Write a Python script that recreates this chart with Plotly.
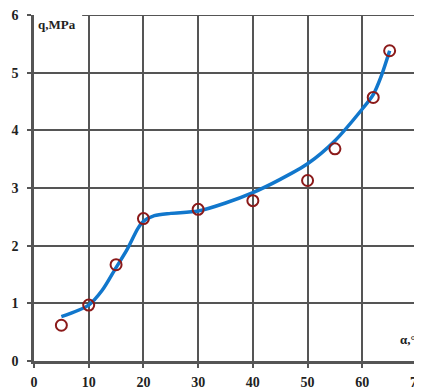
import plotly.graph_objects as go

# Measured points
alpha_pts = [5, 10, 15, 20, 30, 40, 50, 55, 62, 65]
q_pts = [0.62, 0.97, 1.67, 2.47, 2.63, 2.78, 3.13, 3.68, 4.57, 5.38]

# Fitted curve
alpha_fit = [5, 10, 12.5, 15, 17, 19, 20, 22, 25, 30, 35, 40, 45, 50, 55, 60, 62, 63.5, 65]
q_fit = [0.77, 0.97, 1.23, 1.62, 1.93, 2.30, 2.42, 2.52, 2.56, 2.60, 2.74, 2.92, 3.15, 3.42, 3.82, 4.37, 4.62, 4.95, 5.38]

x_ticks = [0, 10, 20, 30, 40, 50, 60, 70]
y_ticks = [0, 1, 2, 3, 4, 5, 6]

font_family = "Liberation Serif, Times New Roman, serif"

fig = go.Figure()
fig.add_trace(go.Scatter(x=alpha_fit, y=q_fit, mode="lines", line=dict(color="#1177cc", width=3.5, shape="spline", smoothing=0.8),
                         hoverinfo="skip", showlegend=False))
fig.add_trace(go.Scatter(x=alpha_pts, y=q_pts, mode="markers",
                         marker=dict(symbol="circle-open", size=11, color="#8b1a1a", line=dict(width=2, color="#8b1a1a")),
                         showlegend=False))

grid_color = "#555555"
fig.add_shape(type="line", x0=8.8, x1=70, y0=6, y1=6, xref="x", yref="y", line=dict(color=grid_color, width=2))
fig.add_shape(type="line", x0=70, x1=70, y0=6, y1=0.5, xref="x", yref="y", line=dict(color=grid_color, width=2))
fig.add_shape(type="line", x0=70, x1=70, y0=0.25, y1=0, xref="x", yref="y", line=dict(color=grid_color, width=2))

fig.add_annotation(text="<b>q,MPa</b>", x=0.006, y=6, xref="x domain", yref="y", xanchor="left", yanchor="top",
                   showarrow=False, font=dict(family=font_family, size=13, color="#222"))
fig.add_annotation(text="<b>α,°</b>", x=70, y=0.38, xref="x", yref="y", xanchor="right", yanchor="middle",
                   xshift=0, showarrow=False, font=dict(family=font_family, size=13, color="#222"),
                   bgcolor="white", borderpad=0)

fig.update_xaxes(range=[0, 70], tickvals=x_ticks, ticktext=[f"<b>{v}</b>" for v in x_ticks],
                 showgrid=True, gridcolor=grid_color, gridwidth=1.5,
                 showline=True, linecolor=grid_color, linewidth=2.5,
                 ticks="outside", ticklen=4, tickcolor=grid_color, tickwidth=1.5,
                 tickfont=dict(family=font_family, size=14, color="#222"), zeroline=False,
                 ticklabelstandoff=2, automargin=False, ticklabeloverflow="allow")
fig.update_yaxes(range=[0, 6], tickvals=y_ticks, ticktext=[f"<b>{v}</b>" for v in y_ticks],
                 showgrid=True, gridcolor=grid_color, gridwidth=1.5,
                 showline=True, linecolor=grid_color, linewidth=2.5,
                 ticks="outside", ticklen=4, tickcolor=grid_color, tickwidth=1.5,
                 tickfont=dict(family=font_family, size=14, color="#222"), zeroline=False,
                 ticklabelstandoff=6, automargin=False, ticklabeloverflow="allow")

# page body has an 8px default margin, so offset the plot area accordingly
fig.update_layout(width=414, height=380, margin=dict(l=26, r=5, t=7, b=27),
                  paper_bgcolor="white", plot_bgcolor="white")

fig.write_html("out.html")
